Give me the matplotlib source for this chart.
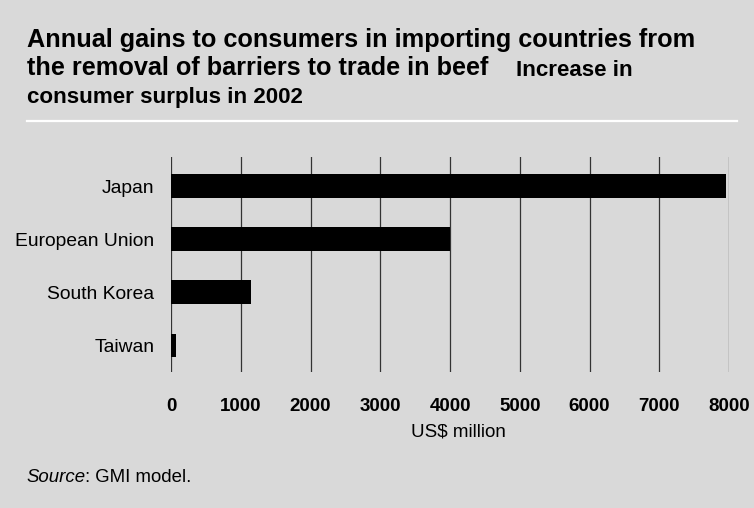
import matplotlib
matplotlib.use("Agg")
import matplotlib.pyplot as plt
from matplotlib.lines import Line2D

plt.rcParams['font.family'] = ['Liberation Sans', 'DejaVu Sans']

# data
countries = ["Japan", "European Union", "South Korea", "Taiwan"]
gains = [7960, 4000, 1150, 75]
x_ticks = [0, 1000, 2000, 3000, 4000, 5000, 6000, 7000, 8000]

W, H = 754, 508
bg = "#d9d9d9"

fig = plt.figure(figsize=(W / 100, H / 100), dpi=100, facecolor=bg)

# axes box in pixels: x 171..729, y 157..372
ax = fig.add_axes([171 / W, 1 - 372 / H, (729 - 171) / W, (372 - 157) / H])
ax.set_facecolor(bg)

ax.barh(range(len(countries)), gains, height=0.45, color="black", zorder=3)
ax.set_xlim(0, 8000)
ax.set_ylim(3.5, -0.55)

ax.set_xticks(x_ticks)
ax.set_xticklabels([str(t) for t in x_ticks], fontsize=13.5, fontweight="bold")
ax.set_yticks(range(len(countries)))
ax.set_yticklabels(countries, fontsize=13.9)
ax.tick_params(axis="x", length=0, pad=19)
ax.tick_params(axis="y", length=0, pad=12)

for s in ax.spines.values():
    s.set_visible(False)
ax.grid(axis="x", color="#333333", linewidth=0.9, zorder=1)

# title block
fig.text(27 / W, 1 - 46.7 / H, "Annual gains to consumers in importing countries from",
         fontsize=18.15, fontweight="bold", va="baseline")
fig.text(27 / W, 1 - 75 / H, "the removal of barriers to trade in beef",
         fontsize=18.15, fontweight="bold", va="baseline")
fig.text(516 / W, 1 - 76 / H, "Increase in",
         fontsize=16.1, fontweight="bold", va="baseline")
fig.text(27 / W, 1 - 103 / H, "consumer surplus in 2002",
         fontsize=16.1, fontweight="bold", va="baseline")

fig.add_artist(Line2D([27 / W, 737 / W], [1 - 121 / H, 1 - 121 / H],
                      transform=fig.transFigure, color="white", linewidth=1.6))

fig.text(458 / W, 1 - 437 / H, "US$ million", fontsize=13.5, ha="center", va="baseline")

# source line: italic word then plain text
r = fig.canvas.get_renderer()
t1 = fig.text(26 / W, 1 - 482 / H, "Source", fontsize=13.4, style="italic", va="baseline")
bb = t1.get_window_extent(renderer=r)
fig.text(bb.x1 / W, 1 - 482 / H, ": GMI model.", fontsize=13.4, va="baseline")

fig.savefig("out.png", dpi=100, facecolor=bg)
